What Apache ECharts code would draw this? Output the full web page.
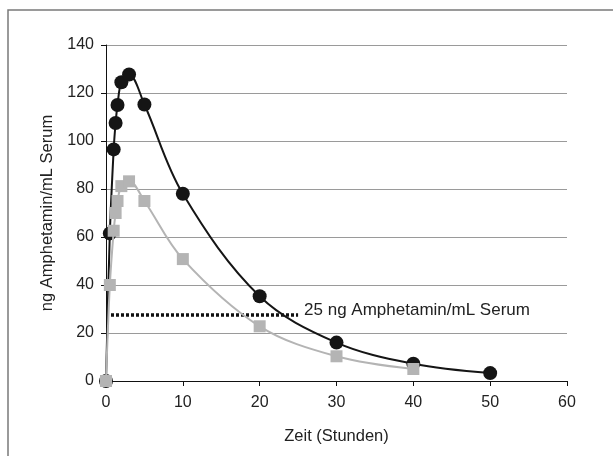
<!DOCTYPE html>
<html>
<head>
<meta charset="utf-8">
<script src="https://cdn.jsdelivr.net/npm/echarts@6/dist/echarts.min.js"></script>
<style>
html,body{margin:0;padding:0;background:#fff;}
#chart{width:613px;height:456px;}
</style>
</head>
<body>
<div id="chart"></div>
<script>
var times = [0, 0.5, 1, 1.25, 1.5, 2, 3, 5, 10, 20, 30, 40, 50];
var seriesBlack = [0, 61.5, 96.5, 107.5, 115, 124.5, 127.7, 115.2, 78, 35.3, 16, 7.2, 3.3];
var timesGrey = [0, 0.5, 1, 1.25, 1.5, 2, 3, 5, 10, 20, 30, 40];
var seriesGrey = [0, 40, 62.6, 70, 75, 81.2, 83.2, 75, 50.8, 22.8, 10.3, 5];
var thresholdX = [0, 25];
var thresholdY = [27.5, 27.5];
var thresholdLabel = '25 ng Amphetamin/mL Serum';
var xTitle = 'Zeit (Stunden)';
var yTitle = 'ng Amphetamin/mL Serum';

function pairs(xs, ys){ return xs.map(function(x,i){ return [x, ys[i]]; }); }

var chart = echarts.init(document.getElementById('chart'), null, {renderer:'canvas'});
var font = 'Arial, "Liberation Sans", sans-serif';
chart.setOption({
  animation: false,
  backgroundColor: '#fff',
  graphic: [{
    type: 'rect', z: -1,
    shape: {x: 8, y: 10, width: 640, height: 480},
    style: {fill: 'none', stroke: '#7a7a7a', lineWidth: 1.5}
  }],
  grid: {left: 106, right: 46, top: 45, bottom: 75},
  xAxis: {
    type: 'value', min: 0, max: 60, interval: 10,
    name: xTitle, nameLocation: 'middle', nameGap: 47,
    nameTextStyle: {fontFamily: font, fontSize: 16.5, color: '#222'},
    axisLine: {show: true, onZero: false, lineStyle: {color: '#111', width: 1}},
    axisTick: {show: true, inside: false, length: 5, lineStyle: {color: '#111'}},
    axisLabel: {fontFamily: font, fontSize: 16, color: '#222', margin: 14},
    splitLine: {show: false}
  },
  yAxis: {
    type: 'value', min: 0, max: 140, interval: 20,
    name: yTitle, nameLocation: 'middle', nameGap: 50,
    nameTextStyle: {fontFamily: font, fontSize: 16.5, color: '#222'},
    axisLine: {show: true, onZero: false, lineStyle: {color: '#111', width: 1}},
    axisTick: {show: true, inside: false, length: 5, lineStyle: {color: '#111'}},
    axisLabel: {fontFamily: font, fontSize: 16, color: '#222', margin: 12},
    splitLine: {show: true, lineStyle: {color: '#9a9a9a', width: 1}}
  },
  series: [
    {
      type: 'line', data: pairs(thresholdX, thresholdY), symbol: 'none',
      lineStyle: {color: '#111', width: 3.5, type: [3, 2]},
      z: 1,
      endLabel: {show: true, formatter: thresholdLabel, fontFamily: font, fontSize: 17, color: '#222', distance: 6, offset: [0, -5]}
    },
    {
      type: 'line', data: pairs(times, seriesBlack), smooth: 0.35,
      symbol: 'circle', symbolSize: 14,
      lineStyle: {color: '#151515', width: 2},
      itemStyle: {color: '#151515'},
      z: 3
    },
    {
      type: 'line', data: pairs(timesGrey, seriesGrey), smooth: 0.35,
      symbol: 'rect', symbolSize: 12,
      lineStyle: {color: '#b4b4b4', width: 2},
      itemStyle: {color: '#b4b4b4'},
      z: 4
    }
  ]
});
</script>
</body>
</html>
